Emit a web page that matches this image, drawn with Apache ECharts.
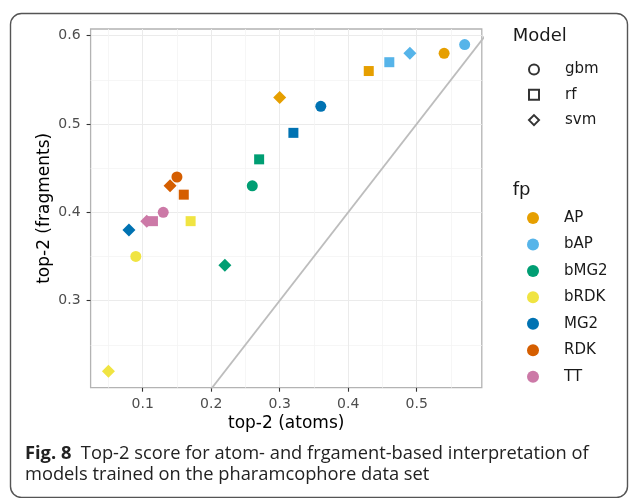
<!DOCTYPE html>
<html>
<head>
<meta charset="utf-8">
<script src="https://cdn.jsdelivr.net/npm/echarts@6.0.0/dist/echarts.min.js"></script>
<style>
  html, body { margin: 0; padding: 0; background: #fff; }
  #chart { width: 629px; height: 498px; }
</style>
</head>
<body>
<div id="chart"></div>
<script>
// ---- data ----
const fpNames = ['AP', 'bAP', 'bMG2', 'bRDK', 'MG2', 'RDK', 'TT'];
const modelNames = ['gbm', 'rf', 'svm'];
// top-2 (atoms) per fp, by model
const atomsGbm = [0.54, 0.57, 0.26, 0.09, 0.36, 0.15, 0.13];
const atomsRf  = [0.43, 0.46, 0.27, 0.17, 0.32, 0.16, 0.115];
const atomsSvm = [0.30, 0.49, 0.22, 0.05, 0.08, 0.14, 0.106];
// top-2 (fragments) per fp, by model
const fragGbm = [0.58, 0.59, 0.43, 0.35, 0.52, 0.44, 0.40];
const fragRf  = [0.56, 0.57, 0.46, 0.39, 0.49, 0.42, 0.39];
const fragSvm = [0.53, 0.58, 0.34, 0.22, 0.38, 0.43, 0.39];
// tick labels
const xTicks = [0.1, 0.2, 0.3, 0.4, 0.5];
const yTicks = [0.3, 0.4, 0.5, 0.6];
// identity reference line endpoints
const refLine = [[0, 0], [1, 1]];

// ---- styles ----
const fpColors = ['#E69F00', '#56B4E9', '#009E73', '#F0E442', '#0072B2', '#D55E00', '#CC79A7'];
const modelSymbols = { gbm: 'circle', rf: 'rect', svm: 'diamond' };
const modelSizes = { gbm: 11, rf: 10, svm: 13 };
const FONT = 'DejaVu Sans';

const fpSeries = fpNames.map((fp, i) => ({
  name: fp,
  type: 'scatter',
  z: 3,
  data: [
    [atomsGbm[i], fragGbm[i], 'gbm'],
    [atomsRf[i], fragRf[i], 'rf'],
    [atomsSvm[i], fragSvm[i], 'svm']
  ],
  symbol: v => modelSymbols[v[2]],
  symbolSize: v => modelSizes[v[2]],
  itemStyle: { color: fpColors[i], opacity: 1 },
  emphasis: { disabled: true }
}));

const modelSeries = modelNames.map(m => ({
  name: m, type: 'scatter', data: [], symbol: modelSymbols[m]
}));

const legendRich = (pad) => ({
  t: { fontFamily: FONT, fontSize: 15, color: '#1a1a1a', padding: [0, 0, 0, pad] }
});

const chart = echarts.init(document.getElementById('chart'), null, { renderer: 'canvas' });
chart.setOption({
  animation: false,
  backgroundColor: '#fff',
  grid: {
    left: 90.6, right: 147.2, top: 29, bottom: 110.3,
    show: true, backgroundColor: '#fff', borderColor: '#b3b3b3', borderWidth: 1.3
  },
  xAxis: {
    type: 'value', min: 0.024, max: 0.595,
    axisLine: { show: false },
    axisTick: { show: true, length: 4, customValues: xTicks, lineStyle: { color: '#333', width: 1.1 } },
    axisLabel: { customValues: xTicks, color: '#4d4d4d', fontFamily: FONT, fontSize: 14, margin: 10,
      formatter: v => v.toFixed(1) },
    splitLine: { show: true, lineStyle: { color: '#ebebeb', width: 1 } },
    minorTick: { show: false, splitNumber: 2 },
    minorSplitLine: { show: true, lineStyle: { color: '#f4f4f4', width: 0.8 } },
    name: 'top-2 (atoms)', nameLocation: 'middle', nameGap: 27, nameMoveOverlap: false,
    nameTextStyle: { fontFamily: FONT, fontSize: 17, color: '#000' }
  },
  yAxis: {
    type: 'value', min: 0.2014, max: 0.6076,
    axisLine: { show: false },
    axisTick: { show: true, length: 4, customValues: yTicks, lineStyle: { color: '#333', width: 1.1 } },
    axisLabel: { customValues: yTicks, color: '#4d4d4d', fontFamily: FONT, fontSize: 14, margin: 10,
      formatter: v => v.toFixed(1) },
    splitLine: { show: true, lineStyle: { color: '#ebebeb', width: 1 } },
    minorTick: { show: false, splitNumber: 2 },
    minorSplitLine: { show: true, lineStyle: { color: '#f4f4f4', width: 0.8 } },
    name: 'top-2 (fragments)', nameLocation: 'middle', nameGap: 38, nameMoveOverlap: false,
    nameTextStyle: { fontFamily: FONT, fontSize: 17, color: '#000' }
  },
  legend: [
    {
      orient: 'vertical', left: 528, top: 62, padding: 0,
      itemWidth: 10, itemHeight: 10, itemGap: 10.3, selectedMode: false,
      data: modelNames.map(m => ({
        name: m, icon: modelSymbols[m],
        itemStyle: { color: 'rgba(0,0,0,0)', borderColor: '#000', borderWidth: 2 }
      })),
      formatter: '{t|{name}}',
      textStyle: { rich: legendRich(21) }
    },
    {
      orient: 'vertical', left: 527, top: 210.5, padding: 0,
      itemWidth: 12, itemHeight: 12, itemGap: 11.45, selectedMode: false,
      data: fpNames.map((fp, i) => ({ name: fp, icon: 'circle', itemStyle: { color: fpColors[i] } })),
      formatter: '{t|{name}}',
      textStyle: { rich: legendRich(20) }
    }
  ],
  graphic: [
    {
      type: 'rect', z: -10, silent: true,
      shape: { x: 10.5, y: 13.5, width: 617, height: 484, r: 11 },
      style: { fill: 'none', stroke: '#555', lineWidth: 1.4 }
    },
    {
      type: 'text', left: 512.7, top: 27, silent: true,
      style: { text: 'Model', fontFamily: FONT, fontSize: 18, fill: '#1a1a1a' }
    },
    {
      type: 'text', left: 512.7, top: 181, silent: true,
      style: { text: 'fp', fontFamily: FONT, fontSize: 18, fill: '#1a1a1a' }
    },
    {
      type: 'text', left: 25, top: 443, silent: true,
      style: {
        text: '{b|Fig. 8}  Top-2 score for atom- and frgament-based interpretation of\nmodels trained on the pharamcophore data set',
        fontFamily: 'Open Sans', fontSize: 18.3, lineHeight: 21, fill: '#222',
        rich: { b: { fontFamily: 'Open Sans', fontSize: 18.3, fontWeight: 'bold', fill: '#222', lineHeight: 21 } }
      }
    }
  ],
  series: [
    {
      name: 'ref', type: 'line', data: refLine, symbol: 'none', silent: true, clip: true, z: 2,
      lineStyle: { color: '#bdbdbd', width: 1.8 }
    },
    ...modelSeries,
    ...fpSeries
  ]
});
</script>
</body>
</html>
